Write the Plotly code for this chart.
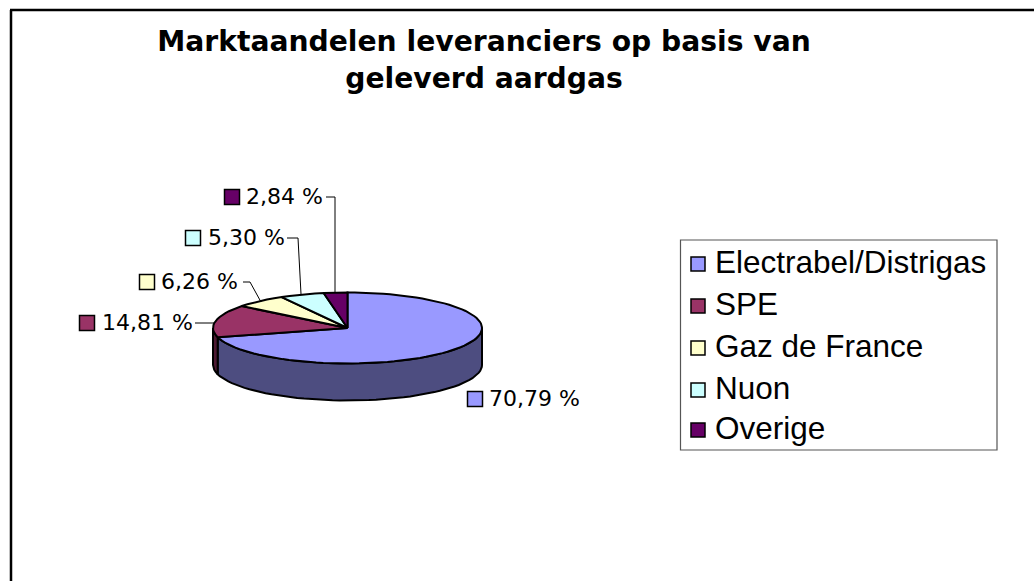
import numpy as np
import plotly.graph_objects as go

title = "Marktaandelen leveranciers op basis van<br>geleverd aardgas"
suppliers = ["Electrabel/Distrigas", "SPE", "Gaz de France", "Nuon", "Overige"]
shares = [70.79, 14.81, 6.26, 5.30, 2.84]
share_labels = ["70,79 %", "14,81 %", "6,26 %", "5,30 %", "2,84 %"]
top_colors = ["#9999FF", "#993366", "#FFFFCC", "#CCFFFF", "#660066"]
side_colors = ["#4D4D80", "#4D1A33", "#808066", "#668080", "#330033"]

W, H = 1034, 581
CX, CY, RX, RY, DEPTH = 347.5, 328, 134.5, 35.5, 37
swatch_x = [475, 87, 147, 193, 232]
swatch_y = [399, 323, 282, 238, 197]
label_x = [489, 102, 161, 208, 246]
label_y = [400.5, 324.5, 283.5, 239.5, 198.5]
leader_x = [None, [195, 214], [243, 250, 261], [287, 298, 301], [326, 335, 335]]
leader_y = [None, [323, 323], [282, 282, 302], [238, 238, 294], [197, 197, 292]]
legend_box = (680.5, 240, 997, 450)
legend_swatch_x = [698] * 5
legend_swatch_y = [264, 306, 348, 390, 430]
legend_text_x = [715] * 5
legend_text_y = [265, 307, 349.5, 391, 431]


def rim(a0, a1, n=None):
    n = n or max(3, int(abs(a1 - a0) / 3))
    t = np.radians(np.linspace(a0, a1, n))
    return CX + RX * np.sin(t), CY - RY * np.cos(t)


fig = go.Figure()
edges = np.concatenate([[0], np.cumsum(shares) / np.sum(shares) * 360])

for i in range(len(shares)):
    a0, a1 = max(edges[i], 90), min(edges[i + 1], 270)
    if a1 <= a0:
        continue
    x, y = rim(a0, a1)
    fig.add_trace(go.Scatter(
        x=np.concatenate([x, x[::-1], x[:1]]),
        y=np.concatenate([y, y[::-1] + DEPTH, y[:1]]),
        mode="lines", fill="toself", fillcolor=side_colors[i],
        line=dict(color="black", width=2), showlegend=False, hoverinfo="skip"))

for i in range(len(shares)):
    x, y = rim(edges[i], edges[i + 1])
    fig.add_trace(go.Scatter(
        x=np.concatenate([[CX], x, [CX]]),
        y=np.concatenate([[CY], y, [CY]]),
        mode="lines", fill="toself", fillcolor=top_colors[i],
        line=dict(color="black", width=2), showlegend=False,
        name=suppliers[i], hoverinfo="name"))

for lx, ly in zip(leader_x, leader_y):
    if lx:
        fig.add_trace(go.Scatter(x=lx, y=ly, mode="lines",
                                 line=dict(color="black", width=1),
                                 showlegend=False, hoverinfo="skip"))

# data labels and their key squares
fig.add_trace(go.Scatter(
    x=swatch_x, y=swatch_y, mode="markers",
    marker=dict(symbol="square", size=15, color=top_colors,
                line=dict(color="black", width=1.5)),
    showlegend=False, hoverinfo="skip"))
fig.add_trace(go.Scatter(
    x=label_x, y=label_y, mode="text", text=share_labels,
    textposition="middle right",
    textfont=dict(family="DejaVu Sans", size=22, color="black"),
    showlegend=False, hoverinfo="skip"))

# legend keys and entries
fig.add_trace(go.Scatter(
    x=legend_swatch_x, y=legend_swatch_y, mode="markers",
    marker=dict(symbol="square", size=14, color=top_colors,
                line=dict(color="black", width=1.5)),
    showlegend=False, hoverinfo="skip"))
fig.add_trace(go.Scatter(
    x=legend_text_x, y=legend_text_y, mode="text", text=suppliers,
    textposition="middle right",
    textfont=dict(family="Liberation Sans", size=31.5, color="black"),
    showlegend=False, hoverinfo="skip"))

fig.update_layout(
    width=W, height=H, margin=dict(l=0, r=0, t=0, b=0),
    paper_bgcolor="white", plot_bgcolor="white",
    xaxis=dict(range=[0, W], visible=False, fixedrange=True),
    yaxis=dict(range=[H, 0], visible=False, fixedrange=True),
    title=dict(text=title, x=484 / W, xanchor="center", y=1 - 51 / H, yanchor="top",
               font=dict(family="DejaVu Sans", size=28.2, color="black", weight="bold")),
    shapes=[
        dict(type="line", xref="x", yref="y", x0=11, x1=11, y0=10, y1=H,
             line=dict(color="black", width=2.5)),
        dict(type="line", xref="x", yref="y", x0=10, x1=W, y0=10, y1=10,
             line=dict(color="black", width=2.5)),
        dict(type="rect", xref="x", yref="y", x0=legend_box[0], y0=legend_box[1],
             x1=legend_box[2], y1=legend_box[3], layer="below",
             line=dict(color="#555555", width=1.2)),
    ],
)
fig.write_html("out.html", config=dict(displayModeBar=False),
               post_script="document.body.style.margin='0';")
